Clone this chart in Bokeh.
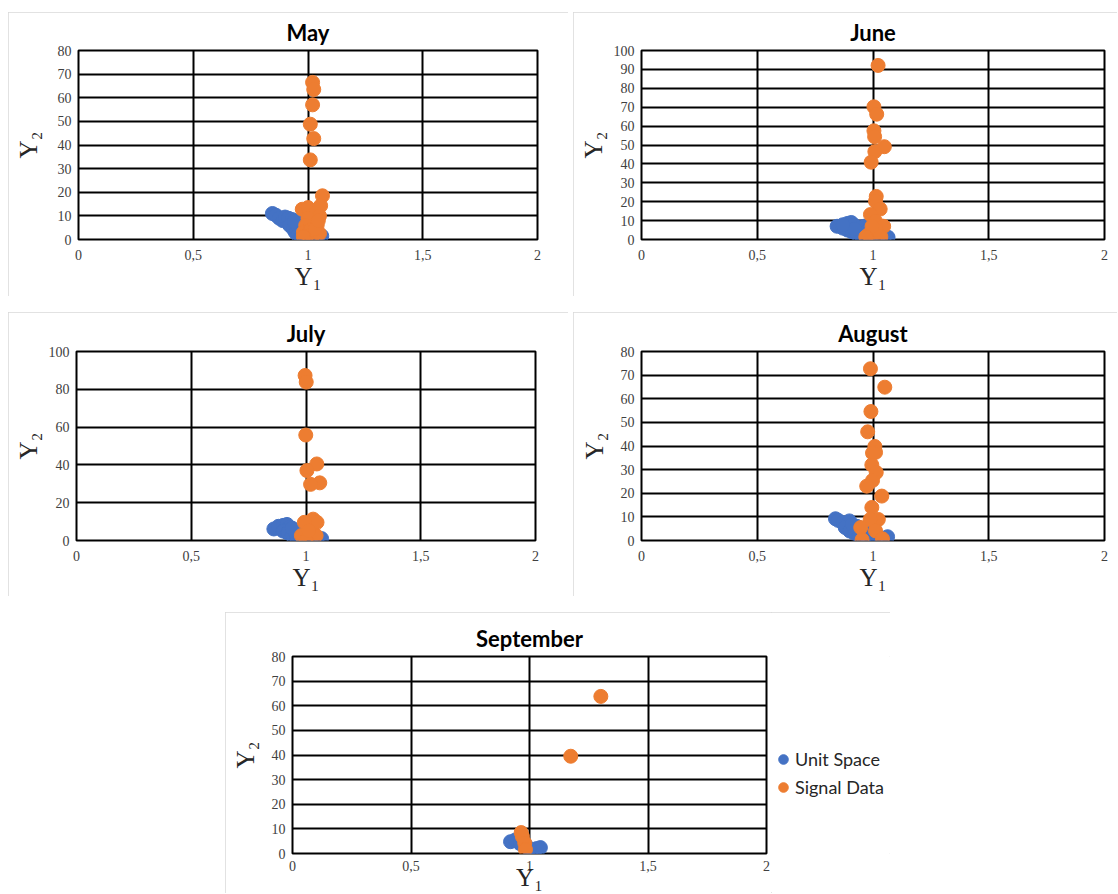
from bokeh.plotting import figure
from bokeh.layouts import column, row, Spacer
from bokeh.models import Range1d, FixedTicker, Legend, LegendItem
from bokeh.embed import file_html
from bokeh.resources import INLINE

BLUE = "#4472C4"
ORANGE = "#ED7D31"

# ---------------- data ----------------
x_ticks = [0, 0.5, 1, 1.5, 2]
x_tick_labels = ["0", "0,5", "1", "1,5", "2"]
series_names = ["Unit Space", "Signal Data"]
months = ["May", "June", "July", "August", "September"]

may_unit_y1 = [0.845, 0.86, 0.875, 0.89, 0.90, 0.915, 0.93, 0.92, 0.935, 0.945, 0.955, 0.97, 0.99, 1.01, 1.03, 1.05, 1.06, 0.95, 0.97, 0.96, 0.99, 0.94]
may_unit_y2 = [11.0, 10.3, 9.0, 8.0, 9.5, 9.0, 8.5, 6.0, 4.5, 3.0, 1.8, 1.2, 1.0, 1.0, 1.3, 2.0, 1.5, 6.5, 5.0, 8.0, 3.5, 7.5]
may_signal_y1 = [1.02, 1.025, 1.02, 1.01, 1.025, 1.01, 1.063, 1.055, 0.975, 1.00, 1.03, 1.05, 1.00, 0.99, 1.04, 0.98, 1.00, 1.02, 1.05, 1.01, 1.03, 1.045, 0.98]
may_signal_y2 = [66.5, 63.5, 57.0, 48.8, 42.7, 33.7, 18.5, 14.3, 12.8, 13.5, 11.0, 10.0, 9.0, 6.0, 6.0, 3.0, 2.0, 1.5, 2.5, 4.0, 4.5, 8.0, 1.2]

june_unit_y1 = [0.845, 0.87, 0.89, 0.906, 0.92, 0.89, 0.91, 0.93, 0.95, 0.97, 0.99, 1.02, 1.05, 1.065, 0.94, 0.96, 0.97, 1.00, 0.92, 0.87]
june_unit_y2 = [7.0, 6.0, 8.5, 9.0, 7.5, 5.0, 4.0, 3.0, 2.0, 1.0, 0.8, 1.0, 1.5, 1.2, 6.0, 7.0, 4.0, 3.0, 5.5, 7.8]
june_signal_y1 = [1.022, 1.004, 1.016, 1.004, 1.007, 1.049, 1.008, 0.992, 1.014, 1.011, 1.031, 0.989, 1.011, 1.046, 0.981, 1.034, 1.011, 0.996, 0.969]
june_signal_y2 = [92.1, 70.2, 66.3, 57.5, 54.4, 49.1, 46.5, 40.9, 22.8, 20.2, 16.1, 13.2, 9.6, 7.0, 2.6, 1.4, 5.3, 7.0, 1.4]

july_unit_y1 = [0.86, 0.88, 0.90, 0.917, 0.93, 0.90, 0.92, 0.94, 0.96, 0.99, 1.02, 1.05, 1.068, 0.95, 0.97, 0.94]
july_unit_y2 = [6.1, 7.5, 8.0, 8.5, 7.0, 5.0, 4.0, 2.5, 1.2, 0.8, 0.9, 1.3, 1.0, 5.0, 3.5, 6.5]
july_signal_y1 = [0.996, 1.001, 0.999, 1.047, 1.004, 1.06, 1.02, 1.031, 1.048, 0.993, 0.98, 1.044, 1.0, 1.012]
july_signal_y2 = [87.3, 83.8, 55.8, 40.5, 37.0, 30.5, 29.7, 11.3, 9.6, 9.6, 2.6, 2.6, 0.0, 5.2]

aug_unit_y1 = [0.838, 0.85, 0.87, 0.898, 0.88, 0.90, 0.92, 0.94, 0.96, 0.98, 1.01, 1.04, 1.063, 0.93, 0.95, 0.97, 0.91]
aug_unit_y2 = [9.2, 8.5, 7.5, 8.3, 5.5, 4.0, 3.0, 2.0, 1.2, 0.8, 0.8, 1.0, 1.6, 6.0, 5.0, 3.5, 6.8]
aug_signal_y1 = [0.989, 1.051, 0.991, 0.977, 1.008, 1.011, 0.998, 0.995, 1.014, 0.998, 0.973, 1.038, 0.995, 1.023, 0.988, 0.947, 0.953, 1.011, 1.041]
aug_signal_y2 = [72.7, 64.9, 54.6, 46.0, 39.8, 37.3, 37.0, 32.0, 28.8, 25.4, 23.0, 18.8, 14.0, 8.9, 8.9, 5.5, 0.3, 4.1, 0.7]

sep_unit_y1 = [0.92, 0.94, 0.96, 0.983, 1.004, 1.017, 1.03, 1.046, 1.0]
sep_unit_y2 = [4.8, 5.5, 4.0, 3.6, 0.3, 0.8, 2.0, 2.4, 2.0]
sep_signal_y1 = [1.301, 1.174, 0.965, 0.97, 0.98, 0.983]
sep_signal_y2 = [63.8, 39.5, 8.5, 6.9, 4.3, 1.6]

y_max = {"May": 80, "June": 100, "July": 100, "August": 80, "September": 80}
y_step = {"May": 10, "June": 10, "July": 20, "August": 10, "September": 10}

# ---------------- layout (px) ----------------
geom = {
    "May":       dict(w=560, h=284, l=70, r=31, t=33, b=56, ys=13),
    "June":      dict(w=544, h=284, l=68, r=13, t=38, b=57, ys=4),
    "July":      dict(w=560, h=284, l=68, r=33, t=37, b=56, ys=4),
    "August":    dict(w=544, h=284, l=68, r=13, t=39, b=53, ys=10),
    "September": dict(w=546, h=281, l=67, r=5, t=44, b=39, ys=10),
}
BOX_STYLE = {"outline": "1px solid #d9d9d9", "outline-offset": "-1px"}

SERIF = "Liberation Serif"
SANS = "Lato"


def make_panel(name, uy1, uy2, sy1, sy2, boxed=True):
    g = geom[name]
    p = figure(width=g["w"], height=g["h"], output_backend="svg", toolbar_location=None,
               x_range=Range1d(0, 2), y_range=Range1d(0, y_max[name]),
               min_border_left=g["l"], min_border_right=g["r"],
               min_border_top=g["t"], min_border_bottom=g["b"],
               background_fill_color="white", border_fill_color="white",
               outline_line_color="black", outline_line_width=2)
    if boxed:
        p.styles = BOX_STYLE
    p.title.text = name
    p.title.align = "center"
    p.title.text_font = SANS
    p.title.text_font_style = "bold"
    p.title.text_font_size = "22px"
    p.title.text_color = "black"
    p.title.text_line_height = 0.8
    p.title.standoff = 9

    yt = list(range(0, y_max[name] + 1, y_step[name]))
    p.xaxis.ticker = FixedTicker(ticks=x_ticks)
    p.xaxis.major_label_overrides = {t: s for t, s in zip(x_ticks, x_tick_labels)}
    p.yaxis.ticker = FixedTicker(ticks=yt)
    p.xgrid.ticker = FixedTicker(ticks=x_ticks)
    p.ygrid.ticker = FixedTicker(ticks=yt)
    for gr in (p.xgrid, p.ygrid):
        gr.grid_line_color = "black"
        gr.grid_line_width = 2
    for ax in (p.xaxis, p.yaxis):
        ax.axis_line_color = None
        ax.major_tick_line_color = None
        ax.minor_tick_line_color = None
        ax.major_tick_out = 0
        ax.major_tick_in = 0
        ax.major_label_text_font = SERIF
        ax.major_label_text_font_size = "14px"
        ax.major_label_text_color = "#404040"
        ax.axis_label_text_font = SERIF
        ax.axis_label_text_font_style = "normal"
        ax.axis_label_text_font_size = "25px"
        ax.axis_label_text_color = "#262626"
    p.xaxis.axis_label = "Y\u2081"
    p.yaxis.axis_label = "Y\u2082"
    if name == "September":
        p.xaxis.major_label_standoff = 7
        p.xaxis.axis_label_standoff = -10
    else:
        p.xaxis.major_label_standoff = 10
        p.xaxis.axis_label_standoff = 0
    p.yaxis.major_label_standoff = 7
    p.yaxis.axis_label_standoff = g["ys"]

    p.scatter(uy1, uy2, size=14, fill_color=BLUE, line_color=BLUE)
    p.scatter(sy1, sy2, size=14, fill_color=ORANGE, line_color=ORANGE)
    return p


p_may = make_panel("May", may_unit_y1, may_unit_y2, may_signal_y1, may_signal_y2)
p_jun = make_panel("June", june_unit_y1, june_unit_y2, june_signal_y1, june_signal_y2)
p_jul = make_panel("July", july_unit_y1, july_unit_y2, july_signal_y1, july_signal_y2)
p_aug = make_panel("August", aug_unit_y1, aug_unit_y2, aug_signal_y1, aug_signal_y2)
p_sep = make_panel("September", sep_unit_y1, sep_unit_y2, sep_signal_y1, sep_signal_y2, boxed=False)

# legend panel to the right of the September chart (its own ranges keep the points off-canvas)
p_leg = figure(width=119, height=281, output_backend="svg", toolbar_location=None,
               x_axis_type=None, y_axis_type=None, x_range=Range1d(-2, -1), y_range=Range1d(-2, -1),
               min_border=0, outline_line_color=None,
               background_fill_color="white", border_fill_color="white")
lr1 = p_leg.scatter(sep_unit_y1, sep_unit_y2, size=14, fill_color=BLUE, line_color=BLUE)
lr2 = p_leg.scatter(sep_signal_y1, sep_signal_y2, size=14, fill_color=ORANGE, line_color=ORANGE)
lg = Legend(items=[LegendItem(label=series_names[0], renderers=[lr1]),
                   LegendItem(label=series_names[1], renderers=[lr2])],
            location=(0, 53), border_line_color=None, background_fill_alpha=0,
            label_text_font=SANS, label_text_font_size="18px", label_text_color="#262626",
            glyph_width=24, glyph_height=26, label_height=26, label_standoff=0,
            spacing=2, padding=0, margin=0)
p_leg.add_layout(lg, "center")

layout = column(
    Spacer(height=12),
    row(Spacer(width=8), p_may, Spacer(width=5), p_jun),
    Spacer(height=16),
    row(Spacer(width=8), p_jul, Spacer(width=5), p_aug),
    Spacer(height=16),
    row(Spacer(width=225), row(p_sep, p_leg, styles=BOX_STYLE)),
)

open("out.html", "w").write(file_html(layout, INLINE))
